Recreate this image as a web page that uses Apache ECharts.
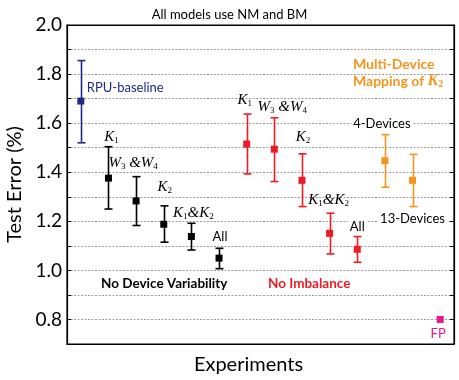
<!DOCTYPE html>
<html>
<head>
<meta charset="utf-8">
<script src="https://cdn.jsdelivr.net/npm/echarts@6/dist/echarts.min.js"></script>
<style>
  html, body { margin: 0; padding: 0; background: #fff; }
  #main { width: 459px; height: 380px; }
</style>
</head>
<body>
<div id="main"></div>
<script>
// experiments along the x axis (labels hidden, one slot each)
var categories = ['RPU-baseline', 'NDV K1', 'NDV W3&W4', 'NDV K2', 'NDV K1&K2', 'NDV All',
  'NI K1', 'NI W3&W4', 'NI K2', 'NI K1&K2', 'NI All', '4-Devices', '13-Devices', 'FP'];
// test error (%) : mean, lower and upper end of the error bar
var means = [1.69, 1.376, 1.283, 1.188, 1.138, 1.05, 1.515, 1.494, 1.367, 1.151, 1.086, 1.447, 1.367, 0.80];
var lows  = [1.52, 1.25, 1.183, 1.115, 1.083, 1.007, 1.393, 1.362, 1.26, 1.067, 1.033, 1.339, 1.26, null];
var highs = [1.855, 1.504, 1.382, 1.263, 1.192, 1.09, 1.637, 1.622, 1.475, 1.233, 1.138, 1.553, 1.473, null];
var groups = ['baseline', 'noVar', 'noVar', 'noVar', 'noVar', 'noVar',
  'noImb', 'noImb', 'noImb', 'noImb', 'noImb', 'multi', 'multi', 'fp'];
// point labels, written as rich text ({k|..} italic letters, {s|..} subscripts)
var pointLabels = ['RPU-baseline', '{k|K}{s|1}', '{k|W}{s|3}{k| &W}{s|4}', '{k|K}{s|2}', '{k|K}{s|1}{k|&K}{s|2}', 'All',
  '{k|K}{s|1}', '{k|W}{s|3}{k| &W}{s|4}', '{k|K}{s|2}', '{k|K}{s|1}{k|&K}{s|2}', 'All', '4-Devices', '13-Devices', 'FP'];
var yTicks = [0.8, 1.0, 1.2, 1.4, 1.6, 1.8, 2.0];

var colors = { baseline: '#1f2a86', noVar: '#000000', noImb: '#ec1c24', multi: '#f7941d', fp: '#ec168c' };
var SANS = 'Lato, "Noto Sans", sans-serif';
var SERIF = '"Liberation Serif", "DejaVu Serif", serif';

// label placement relative to the bar (anchor: top / mean / bottom), pixels
var labelPos = [
  { at: 'mean', dx: 6, dy: -13, align: 'left' },
  { at: 'top', dx: 3, dy: -10 },
  { at: 'top', dx: -3, dy: -14 },
  { at: 'top', dx: 1, dy: -19 },
  { at: 'top', dx: 2, dy: -10 },
  { at: 'top', dx: 1, dy: -11 },
  { at: 'top', dx: -2, dy: -14 },
  { at: 'top', dx: 8, dy: -11 },
  { at: 'top', dx: 1, dy: -17 },
  { at: 'top', dx: -1, dy: -13 },
  { at: 'top', dx: 0, dy: -10 },
  { at: 'top', dx: -3, dy: -11 },
  { at: 'bottom', dx: 0, dy: 12 },
  { at: 'mean', dx: -2, dy: 14 }
];
var labelBg = [false, false, false, false, false, false, false, false, false, false, true, true, true, false];

var richK = {
  k: { fontFamily: SERIF, fontStyle: 'italic', fontSize: 15, lineHeight: 16, verticalAlign: 'middle' },
  s: { fontFamily: SERIF, fontSize: 9, lineHeight: 6, verticalAlign: 'bottom' }
};

function renderPoint(params, api) {
  var i = api.value(0);
  var g = groups[i];
  var col = colors[g];
  var pm = api.coord([i, means[i]]);
  var kids = [];
  var top = pm, bot = pm;
  if (highs[i] != null) {
    top = api.coord([i, highs[i]]);
    bot = api.coord([i, lows[i]]);
    var x = Math.round(pm[0]) + 0.5;
    kids.push({ type: 'line', shape: { x1: x, y1: top[1], x2: x, y2: bot[1] }, style: { stroke: col, lineWidth: 1.6 } });
    kids.push({ type: 'line', shape: { x1: x - 4, y1: top[1], x2: x + 4, y2: top[1] }, style: { stroke: col, lineWidth: 1.6 } });
    kids.push({ type: 'line', shape: { x1: x - 4, y1: bot[1], x2: x + 4, y2: bot[1] }, style: { stroke: col, lineWidth: 1.6 } });
  }
  kids.push({ type: 'rect', shape: { x: pm[0] - 3.5, y: pm[1] - 3.5, width: 7, height: 7 }, style: { fill: col } });

  var lp = labelPos[i];
  var anchor = lp.at === 'top' ? top : (lp.at === 'bottom' ? bot : pm);
  var txtColor = (g === 'baseline' || g === 'fp') ? col : '#000';
  kids.push({
    type: 'text',
    x: anchor[0] + lp.dx,
    y: anchor[1] + lp.dy,
    style: {
      text: pointLabels[i],
      rich: richK,
      fill: txtColor,
      font: '13px ' + SANS,
      align: lp.align || 'center',
      verticalAlign: 'middle',
      backgroundColor: labelBg[i] ? '#fff' : null,
      padding: labelBg[i] ? [0, 2] : 0
    }
  });
  return { type: 'group', children: kids };
}

var data = categories.map(function (c, i) { return [i, means[i]]; });

var chart = echarts.init(document.getElementById('main'));
chart.setOption({
  animation: false,
  textStyle: { fontFamily: SANS },
  title: {
    text: 'All models use NM and BM',
    left: 'center',
    top: 3,
    textStyle: { fontSize: 13, fontWeight: 'normal', color: '#000', fontFamily: SANS }
  },
  grid: {
    left: 67, right: 5, top: 25, bottom: 36,
    containLabel: false, outerBoundsMode: 'none',
    show: true, borderColor: '#000', borderWidth: 1.2, backgroundColor: 'transparent'
  },
  xAxis: [{
    type: 'category',
    data: categories,
    boundaryGap: true,
    name: 'Experiments',
    nameLocation: 'middle',
    nameGap: 11,
    nameTextStyle: { fontSize: 20, color: '#000', fontFamily: SANS, padding: [0, 24, 0, 0] },
    axisLine: { onZero: false, lineStyle: { color: '#000', width: 1.2 } },
    axisTick: { inside: true, length: 4, alignWithLabel: true, interval: 1, lineStyle: { color: '#000' } },
    axisLabel: { show: false },
    splitLine: { show: false }
  }, {
    type: 'category',
    data: categories,
    position: 'top',
    boundaryGap: true,
    axisLine: { onZero: false, lineStyle: { color: '#000', width: 1.2 } },
    axisTick: { inside: true, length: 4, alignWithLabel: true, interval: 1, lineStyle: { color: '#000' } },
    axisLabel: { show: false },
    splitLine: { show: false }
  }],
  yAxis: [{
    type: 'value',
    min: 0.7,
    max: 2.0,
    interval: 0.1,
    name: 'Test Error (%)',
    nameLocation: 'middle',
    nameGap: 40,
    nameTextStyle: { fontSize: 20, color: '#000', fontFamily: SANS },
    axisLine: { show: true, onZero: false, lineStyle: { color: '#000', width: 1.2 } },
    axisTick: { show: true, inside: true, length: 4, lineStyle: { color: '#000' } },
    axisLabel: {
      fontSize: 19,
      color: '#000',
      margin: 5,
      formatter: function (v) {
        var r = Math.round(v * 10) / 10;
        return yTicks.indexOf(r) >= 0 ? r.toFixed(1) : '';
      }
    },
    splitLine: { show: true, lineStyle: { color: '#9a9a9a', type: [2, 1.5], width: 1 } }
  }, {
    type: 'value',
    min: 0.7,
    max: 2.0,
    interval: 0.1,
    position: 'right',
    axisLine: { show: true, onZero: false, lineStyle: { color: '#000', width: 1.2 } },
    axisTick: { show: true, inside: true, length: 4, lineStyle: { color: '#000' } },
    axisLabel: { show: false },
    splitLine: { show: false }
  }],
  series: [{
    type: 'custom',
    renderItem: renderPoint,
    data: data,
    clip: false,
    z: 10
  }],
  graphic: [{
    type: 'text',
    left: 101,
    top: 277,
    style: { text: 'No Device Variability', font: 'bold 13.5px ' + SANS, fill: '#000' }
  }, {
    type: 'text',
    left: 268,
    top: 277,
    style: { text: 'No Imbalance', font: 'bold 13.5px ' + SANS, fill: colors.noImb }
  }, {
    type: 'text',
    left: 353,
    top: 57,
    style: {
      text: '{b|Multi-Device}\n{b|Mapping of }{k|K}{s|2}',
      fill: colors.multi,
      rich: {
        b: { fontFamily: SANS, fontWeight: 'bold', fontSize: 14, fill: colors.multi, lineHeight: 17 },
        k: { fontFamily: SERIF, fontStyle: 'italic', fontWeight: 'bold', fontSize: 16, fill: colors.multi, lineHeight: 17 },
        s: { fontFamily: SERIF, fontWeight: 'bold', fontSize: 10, fill: colors.multi, lineHeight: 6, verticalAlign: 'bottom' }
      }
    }
  }]
});
</script>
</body>
</html>
